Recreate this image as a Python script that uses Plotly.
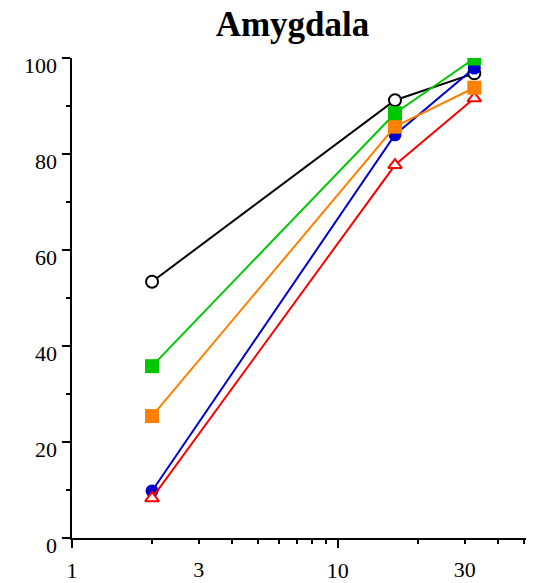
import math
import plotly.graph_objects as go

# Time points (log-scaled x axis)
x_vals = [2, 16.4, 32.6]

# Percentage values per series
black_vals = [53.4, 91.2, 96.8]
blue_vals = [9.8, 84.0, 97.9]
red_vals = [8.3, 77.7, 91.6]
orange_vals = [25.4, 85.7, 93.8]
green_vals = [35.8, 88.5, 99.9]

# Axis tick positions / labels
x_major_ticks = [1, 10]
x_major_text = ["1", "10"]
x_extra_ticks = [3, 30]
x_extra_text = ["3", "30"]
x_minor_ticks = [2, 3, 4, 5, 6, 7, 8, 9, 20, 30, 40, 50]
y_major_ticks = [0, 20, 40, 60, 80, 100]
y_minor_ticks = [10, 30, 50, 70, 90]

FONT = "Liberation Serif"

fig = go.Figure()

series = [
    (black_vals, "#000000", "circle", "white", 12),
    (blue_vals, "#0000CC", "circle", "#0000CC", 13),
    (red_vals, "#FF0000", "triangle-up", "white", 12),
    (orange_vals, "#FF8000", "square", "#FF8000", 14),
    (green_vals, "#00C800", "square", "#00C800", 14),
]

for vals, color, symbol, fill, size in series:
    fig.add_trace(go.Scatter(
        x=x_vals, y=vals, mode="lines+markers",
        line=dict(color=color, width=2),
        marker=dict(symbol=symbol, size=size, color=fill,
                    line=dict(color=color, width=2 if fill == "white" else 0)),
        showlegend=False, hoverinfo="skip",
    ))

# Helper trace so the secondary x axis (labels 3 and 30) is rendered
fig.add_trace(go.Scatter(x=[1], y=[None], xaxis="x2", showlegend=False,
                         hoverinfo="skip", mode="markers"))

xr = [0, math.log10(51)]

fig.update_layout(
    width=540, height=583,
    margin=dict(l=72, r=14, t=58, b=45),
    paper_bgcolor="white", plot_bgcolor="white",
    font=dict(family=FONT, size=22, color="black"),
    title=dict(text="<b>Amygdala</b>", x=292.5 / 540, xanchor="center",
               y=1 - 24 / 583, yanchor="middle",
               font=dict(family=FONT, size=35, color="black")),
    xaxis=dict(type="log", range=xr, showgrid=False, zeroline=False,
               automargin=False,
               showline=True, linecolor="black", linewidth=2,
               tickmode="array", tickvals=x_major_ticks, ticktext=x_major_text,
               ticks="outside", ticklen=8, tickwidth=2, tickcolor="black",
               ticklabelstandoff=4,
               minor=dict(tickmode="array", tickvals=x_minor_ticks,
                          ticks="outside", ticklen=4, tickwidth=2,
                          tickcolor="black", showgrid=False)),
    xaxis2=dict(type="log", range=xr, overlaying="x", anchor="y", side="bottom",
                automargin=False,
                showgrid=False, zeroline=False, showline=False,
                tickmode="array", tickvals=x_extra_ticks, ticktext=x_extra_text,
                ticks="outside", ticklen=8, tickcolor="rgba(0,0,0,0)",
                ticklabelstandoff=4),
    yaxis=dict(range=[0, 100], showgrid=False, zeroline=False,
               automargin=False,
               showline=True, linecolor="black", linewidth=2,
               tickmode="array", tickvals=y_major_ticks,
               ticks="outside", ticklen=8, tickwidth=2, tickcolor="black",
               showticklabels=False,
               minor=dict(tickmode="array", tickvals=y_minor_ticks,
                          ticks="outside", ticklen=4, tickwidth=2,
                          tickcolor="black", showgrid=False)),
)

# y tick labels, set slightly below their tick marks
for v in y_major_ticks:
    fig.add_annotation(text=str(v), xref="paper", yref="y", x=0, y=v,
                       xanchor="right", yanchor="middle",
                       xshift=-13, yshift=-7, showarrow=False,
                       font=dict(family=FONT, size=22, color="black"))

# Short extension of the y axis line below the x axis
fig.add_shape(type="line", xref="paper", yref="paper",
              x0=0, x1=0, y0=0, y1=-6 / 480,
              line=dict(color="black", width=2))

fig.write_html("out.html")
